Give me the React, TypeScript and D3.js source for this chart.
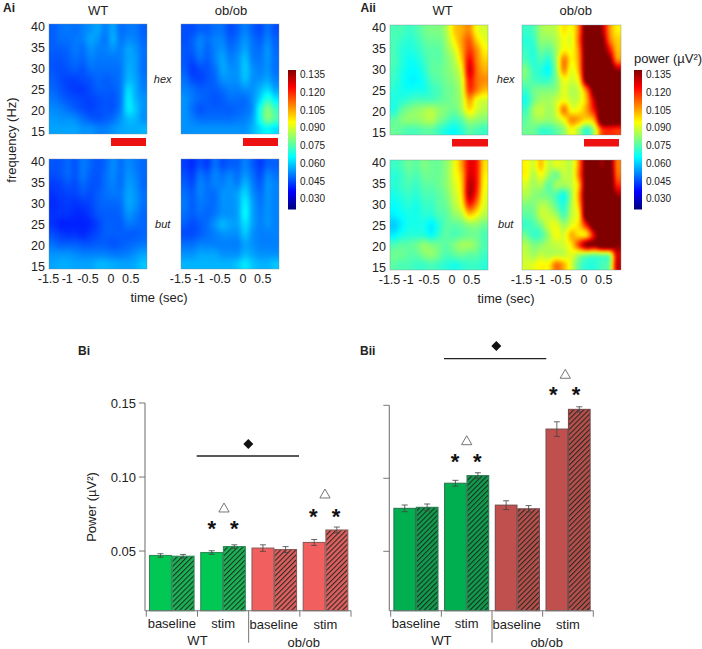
import React from "react";
import * as d3 from "d3";

// power x 1000 (µV²); rows 40 -> 15 Hz, columns -1.5 -> 0.9 s
const aiWtHex = [
  [47,49,50,49,51,53,55,51,55,49,50,50,47],
  [47,49,49,50,51,55,53,50,56,50,52,51,48],
  [47,47,48,50,49,53,51,51,53,51,55,53,49],
  [46,46,47,49,48,51,50,50,50,51,55,54,49],
  [46,45,46,47,46,49,49,49,49,50,56,54,49],
  [47,45,44,44,45,46,48,47,48,50,57,55,50],
  [48,46,44,43,43,45,47,47,47,50,61,56,51],
  [50,48,46,45,44,44,45,46,46,50,63,57,53],
  [52,51,49,47,45,44,45,46,46,51,63,59,53],
  [54,53,53,52,49,47,46,47,49,53,58,57,53],
  [55,55,55,55,53,53,51,51,53,55,56,56,57],
];
const aiObHex = [
  [45,45,47,47,49,49,45,47,51,47,45,49,45],
  [45,47,51,49,51,51,47,49,53,49,47,51,47],
  [46,47,51,48,51,53,49,51,55,50,49,53,48],
  [46,45,49,47,51,55,51,53,58,51,50,53,49],
  [47,43,45,46,49,55,53,53,59,53,51,53,49],
  [49,45,44,46,48,53,53,53,58,53,53,55,51],
  [51,49,47,47,47,49,51,51,53,53,57,61,55],
  [53,50,48,47,46,47,49,49,49,53,61,70,63],
  [53,49,46,47,47,47,47,48,49,53,68,80,72],
  [53,51,49,49,49,49,49,50,51,55,68,80,74],
  [53,53,53,53,53,53,53,53,53,57,62,65,62],
];
const aiWtBut = [
  [46,46,48,46,50,48,46,48,52,49,52,50,48],
  [45,46,48,46,50,47,46,49,52,49,53,51,48],
  [43,44,46,45,48,46,46,49,51,49,54,52,48],
  [42,43,44,44,46,45,47,49,50,50,55,53,49],
  [41,42,43,42,43,44,47,48,48,49,55,53,49],
  [42,42,42,41,41,43,46,47,47,48,53,51,48],
  [42,40,40,40,40,41,44,47,47,47,50,49,48],
  [45,43,42,42,41,43,45,47,47,47,47,47,48],
  [49,47,47,47,46,46,47,47,46,47,48,49,50],
  [53,53,53,52,51,51,51,51,50,50,51,53,55],
  [55,56,56,55,55,55,57,57,56,55,55,56,59],
];
const aiObBut = [
  [43,41,45,43,49,45,47,47,51,47,43,47,47],
  [45,43,49,47,51,49,51,49,53,49,45,51,49],
  [47,45,51,49,51,51,53,51,57,51,47,53,51],
  [49,47,51,49,49,53,53,55,61,53,49,53,51],
  [50,47,50,49,49,53,53,55,64,55,50,53,51],
  [49,47,49,48,50,53,53,55,65,55,51,53,51],
  [47,45,47,49,53,57,55,55,62,55,51,53,51],
  [45,45,47,49,51,53,53,53,59,53,51,51,51],
  [49,49,51,51,51,51,51,51,55,53,51,51,51],
  [53,53,55,55,55,53,53,53,57,55,53,53,53],
  [57,57,57,57,57,57,57,59,63,59,57,57,59],
];
const aiiWtHex = [
  [74,74,72,74,78,80,80,86,100,104,108,94,90],
  [74,72,70,72,76,78,78,84,96,106,114,100,92],
  [74,70,69,70,74,76,76,82,90,104,118,108,96],
  [74,70,67,68,72,76,76,80,86,100,124,110,100],
  [73,69,66,66,70,76,77,80,84,94,128,112,104],
  [72,68,65,65,68,74,76,79,82,90,122,112,108],
  [70,68,67,68,68,72,74,78,80,88,118,110,102],
  [69,70,72,74,74,74,76,78,80,86,106,94,90],
  [69,76,80,82,84,86,82,80,78,84,98,90,86],
  [76,80,82,82,84,86,80,76,72,76,84,82,80],
  [78,76,74,74,76,76,72,68,66,70,76,74,72],
];
const aiiObHex = [
  [72,74,84,86,88,98,94,112,150,150,135,108,96],
  [70,72,82,82,86,94,92,114,150,150,142,112,100],
  [72,70,78,76,84,96,94,110,150,150,146,125,102],
  [74,70,74,70,84,110,96,108,150,150,146,140,108],
  [80,72,70,66,82,108,92,106,150,150,150,150,135],
  [78,74,72,72,80,94,90,98,145,150,150,150,150],
  [72,78,80,80,82,92,86,90,112,145,150,150,150],
  [68,78,84,84,88,94,88,90,104,132,150,150,150],
  [72,84,88,84,90,110,94,96,106,124,150,150,150],
  [76,82,84,82,86,94,108,104,98,106,150,150,150],
  [78,78,72,72,76,82,94,84,70,86,116,120,118],
];
const aiiWtBut = [
  [72,74,78,76,80,78,78,82,92,106,126,122,98],
  [70,72,76,74,78,78,78,82,92,102,128,122,96],
  [70,72,74,72,76,76,78,82,90,100,132,122,94],
  [68,70,72,70,74,74,76,80,88,98,132,118,92],
  [66,68,70,68,72,72,76,78,86,94,120,108,90],
  [64,66,68,68,70,70,74,76,82,86,100,94,86],
  [60,64,68,68,68,64,70,76,76,78,82,82,78],
  [64,68,70,70,70,66,72,76,74,76,78,78,74],
  [74,76,76,78,82,80,78,76,80,84,84,80,74],
  [78,78,76,76,80,82,78,74,76,78,76,76,72],
  [76,74,74,72,72,74,72,70,68,70,72,72,70],
];
const aiiObBut = [
  [96,90,102,88,92,90,88,110,145,150,135,145,110],
  [96,86,94,84,78,88,88,112,145,150,145,150,112],
  [90,84,86,76,84,84,88,104,148,150,150,150,120],
  [86,82,80,78,74,68,84,108,150,150,150,150,135],
  [80,80,86,84,76,70,86,104,150,150,150,150,150],
  [76,78,88,88,84,74,88,98,150,150,150,150,150],
  [72,74,80,90,92,84,92,100,124,148,150,150,150],
  [78,72,74,84,94,90,104,98,100,128,150,150,140],
  [86,80,82,86,88,90,98,118,138,138,150,150,138],
  [88,84,88,86,88,88,92,84,80,78,80,84,130],
  [90,92,96,96,112,104,90,76,70,70,74,80,132],
];

const freqTicks = [40, 35, 30, 25, 20, 15];
const timeTicks = [-1.5, -1, -0.5, 0, 0.5];
const colorTicks = [0.135, 0.12, 0.105, 0.09, 0.075, 0.06, 0.045, 0.03];

const groups = ["WT baseline", "WT stim", "ob/ob baseline", "ob/ob stim"];
const biSolid = [0.047, 0.049, 0.052, 0.0558];
const biHatched = [0.0465, 0.053, 0.051, 0.0642];
const biSolidErr = [0.0012, 0.0012, 0.0022, 0.002];
const biHatchedErr = [0.0012, 0.0012, 0.002, 0.002];
const biiSolid = [0.0794, 0.0966, 0.0816, 0.1337];
const biiHatched = [0.0801, 0.1018, 0.0791, 0.1472];
const biiSolidErr = [0.0023, 0.002, 0.003, 0.005];
const biiHatchedErr = [0.0023, 0.002, 0.0022, 0.0018];

const FONT = "'Liberation Sans', Arial, sans-serif";
const INK = "#222";

const jet = d3
  .scaleLinear<string>()
  .domain([0, 0.125, 0.375, 0.625, 0.875, 1])
  .range(["#000080", "#0000ff", "#00ffff", "#ffff00", "#ff0000", "#800000"])
  .clamp(true);
const colorPos = d3.scaleLinear().domain([0.0215, 0.139]).range([0, 1]).clamp(true);
const colorOf = (v: number) => jet(colorPos(v));

// smooth resampling of a heat map, as a plotting program's shading does
function cubic(a: number[], t: number) {
  const n = a.length;
  const p = Math.max(0, Math.min(n - 1, t));
  const i = Math.min(n - 2, Math.floor(p));
  const u = p - i;
  const p0 = a[Math.max(0, i - 1)];
  const p1 = a[i];
  const p2 = a[i + 1];
  const p3 = a[Math.min(n - 1, i + 2)];
  return 0.5 * (2 * p1 + (p2 - p0) * u + (2 * p0 - 5 * p1 + 4 * p2 - p3) * u * u + (3 * p1 - p0 - 3 * p2 + p3) * u * u * u);
}

function Heat({ grid, x, y, w, h, id }: any) {
  const nc = grid[0].length;
  const nr = grid.length;
  const col = d3.scaleLinear().domain([x, x + w]).range([-0.5, nc - 0.5]);
  const row = d3.scaleLinear().domain([y, y + h]).range([-0.5, nr - 0.5]);
  const s = 2;
  const xs = d3.range(x - 4, x + w + 4, s);
  const ys = d3.range(y - 4, y + h + 4, s);
  return (
    <g>
      <clipPath id={id}>
        <rect x={x} y={y} width={w} height={h} />
      </clipPath>
      <g clipPath={`url(#${id})`}>
        <g filter="url(#smooth)">
          {xs.map((px) => {
            const tx = col(px + s / 2);
            const column = grid.map((r: number[]) => cubic(r, tx));
            return ys.map((py) => (
              <rect key={`${px}-${py}`} x={px} y={py} width={s} height={s} fill={colorOf(cubic(column, row(py + s / 2)) / 1000)} />
            ));
          })}
        </g>
      </g>
      <rect x={x} y={y} width={w} height={h} fill="none" stroke="#7f8f98" strokeOpacity={0.4} strokeWidth={1} />
    </g>
  );
}

function PanelAxes({ x0, ys, w, h, tickEnd, xLabelY }: any) {
  return (
    <g fontFamily={FONT} fontSize={12.5} fill={INK}>
      {ys.map((top: number) => {
        const f = d3.scaleLinear().domain([40, 15]).range([top + 2.5, top + h - 2.5]);
        return freqTicks.map((t) => (
          <text key={`${top}-${t}`} x={tickEnd} y={f(t)} textAnchor="end" dominantBaseline="central">
            {t}
          </text>
        ));
      })}
      {x0.map((left: number) => {
        const tx = d3.scaleLinear().domain([-1.5, 0]).range([left, left + 62]);
        return timeTicks.map((t) => (
          <text
            key={`${left}-${t}`}
            x={tx(t)}
            dx={t === -1 ? -2.4 : t === -0.5 ? -2.3 : t === 0.5 ? -1 : t === -1.5 ? -0.5 : 0}
            y={xLabelY}
            textAnchor="middle"
            dominantBaseline="central"
          >
            {t}
          </text>
        ));
      })}
    </g>
  );
}

function ColorBar({ x, labelX }: any) {
  const top = 70;
  const bottom = 209;
  const s = d3.scaleLinear().domain([0.139, 0.0215]).range([top, bottom]);
  const steps = d3.range(top, bottom, 1);
  return (
    <g fontFamily={FONT} fontSize={10} fill={INK}>
      {steps.map((p) => (
        <rect key={p} x={x} y={p} width={8} height={1.5} fill={colorOf(s.invert(p + 0.5))} />
      ))}
      {colorTicks.map((t) => (
        <text key={t} x={labelX} y={s(t)} dominantBaseline="central">
          {t.toFixed(3)}
        </text>
      ))}
    </g>
  );
}

const tri = d3.symbol().type(d3.symbolTriangle).size(46)()!;
const dia = d3.symbol().type(d3.symbolSquare).size(50)()!;

function Bars({ solid, hatched, solidErr, hatchedErr, yAxisX, domain, yRange, xRange, colors, hatchId, showLabels }: any) {
  const y = d3.scaleLinear().domain(domain).range(yRange);
  const gx = d3.scaleBand<string>().domain(groups).range(xRange).paddingInner(0.115).paddingOuter(0.055);
  const bx = d3.scaleBand<number>().domain([0, 1]).range([0, gx.bandwidth()]);
  const step = (xRange[1] - xRange[0]) / 4;
  const ticks = d3.range(5).map((i) => xRange[0] + i * step);
  const base = yRange[0];
  const ax = "#777";
  const series = [
    { v: solid, e: solidErr },
    { v: hatched, e: hatchedErr },
  ];
  return (
    <g fontFamily={FONT} fill={INK}>
      {series.map((s, si) =>
        s.v.map((v: number, i: number) => {
          const g = groups[i];
          const dark = i < 2 ? colors.edgeA : colors.edgeB;
          const fill = i < 2 ? (si ? `url(#${hatchId}A)` : colors.fillA) : si ? `url(#${hatchId}B)` : colors.fillB;
          const x = gx(g)! + bx(si)!;
          const cx = x + bx.bandwidth() / 2;
          return (
            <g key={`${si}-${i}`}>
              <rect x={x + 0.4} y={y(v)} width={bx.bandwidth() - 0.8} height={base - y(v)} fill={fill} stroke={dark} strokeWidth={1.1} />
              <path
                d={`M${cx - 3},${y(v + s.e[i])}H${cx + 3}M${cx},${y(v + s.e[i])}V${y(v - s.e[i])}M${cx - 3},${y(v - s.e[i])}H${cx + 3}`}
                stroke="#444"
                strokeWidth={0.9}
                fill="none"
                opacity={0.9}
              />
            </g>
          );
        })
      )}
      <path d={`M${yAxisX},${y(0.15)}V${base}`} stroke={ax} strokeWidth={1.1} fill="none" />
      {[0.05, 0.1, 0.15].map((t) => (
        <g key={t}>
          <line x1={yAxisX - 6} x2={yAxisX} y1={y(t)} y2={y(t)} stroke={ax} strokeWidth={1} />
          {showLabels && (
            <text x={yAxisX - 9} y={y(t)} textAnchor="end" dominantBaseline="central" fontSize={13}>
              {t.toFixed(2)}
            </text>
          )}
        </g>
      ))}
      <path d={`M${yAxisX},${base}H${xRange[1]}`} stroke={ax} strokeWidth={1.1} fill="none" />
      {ticks.map((t, i) => (
        <line key={i} x1={t} x2={t} y1={base} y2={i === 2 ? base + 32 : base + 6} stroke={ax} strokeWidth={1} />
      ))}
      {["baseline", "stim", "baseline", "stim"].map((l, i) => (
        <text key={i} x={ticks[i] + step / 2 + (i === 2 ? -0.5 : 0)} y={base + (i < 2 ? 12.5 : 13.5)} textAnchor="middle" dominantBaseline="central" fontSize={13}>
          {l}
        </text>
      ))}
      <text x={ticks[1]} y={base + 30} textAnchor="middle" dominantBaseline="central" fontSize={13}>WT</text>
      <text x={ticks[3] + 4} y={base + 31.5} textAnchor="middle" dominantBaseline="central" fontSize={13}>ob/ob</text>
    </g>
  );
}

function Star({ x, y }: any) {
  return (
    <text x={x} y={y + 10} textAnchor="middle" fontFamily={FONT} fontWeight="bold" fontSize={22} fill="#111">
      *
    </text>
  );
}

function Signif({ stars, triangles, line, diamond }: any) {
  return (
    <g>
      {stars.map((s: number[], i: number) => (
        <Star key={i} x={s[0]} y={s[1]} />
      ))}
      {triangles.map((t: number[], i: number) => (
        <path key={i} d={tri} transform={`translate(${t[0]},${t[1] + 1})`} fill="#fff" stroke="#666" strokeWidth={0.9} />
      ))}
      <line x1={line[0]} x2={line[1]} y1={line[2]} y2={line[2]} stroke="#222" strokeWidth={1.3} />
      <path d={dia} transform={`translate(${diamond[0]},${diamond[1]}) rotate(45)`} fill="#111" />
    </g>
  );
}

function Hatch({ id, bg }: any) {
  return (
    <pattern id={id} width={3.6} height={3.6} patternUnits="userSpaceOnUse" patternTransform="rotate(45)">
      <rect width={3.6} height={3.6} fill={bg} />
      <rect width={1.1} height={3.6} fill="#10201a" opacity={0.85} />
    </pattern>
  );
}

export default function App() {
  const txt = { fontFamily: FONT, fill: INK } as const;
  return (
    <svg width={702} height={649} style={{ position: "absolute", left: 0, top: 0, background: "#fff" }}>
      <defs>
        <filter id="smooth" x="-5%" y="-5%" width="110%" height="110%" colorInterpolationFilters="sRGB">
          <feGaussianBlur stdDeviation="1 1" />
        </filter>
        <Hatch id="h1A" bg="#1db356" />
        <Hatch id="h1B" bg="#e0605f" />
        <Hatch id="h2A" bg="#149c4e" />
        <Hatch id="h2B" bg="#b9504d" />
      </defs>

      <Heat grid={aiWtHex} x={49} y={24} w={98} h={110} id="c1" />
      <Heat grid={aiObHex} x={181} y={24} w={98} h={110} id="c2" />
      <Heat grid={aiWtBut} x={49} y={159} w={98} h={110} id="c3" />
      <Heat grid={aiObBut} x={181} y={159} w={98} h={110} id="c4" />
      <Heat grid={aiiWtHex} x={390} y={25} w={98} h={110} id="c5" />
      <Heat grid={aiiObHex} x={522} y={25} w={99} h={110} id="c6" />
      <Heat grid={aiiWtBut} x={390} y={160} w={98} h={110} id="c7" />
      <Heat grid={aiiObBut} x={522} y={160} w={99} h={110} id="c8" />

      <rect x={111} y={138} width={35} height={8} fill="#ee1111" />
      <rect x={243} y={138} width={35} height={8} fill="#ee1111" />
      <rect x={452} y={139} width={36} height={7.5} fill="#ee1111" />
      <rect x={584} y={139} width={35} height={7.5} fill="#ee1111" />

      <PanelAxes x0={[49, 181]} ys={[24, 159]} w={98} h={110} tickEnd={45} xLabelY={279} />
      <PanelAxes x0={[390, 522]} ys={[25, 160]} w={98} h={110} tickEnd={386} xLabelY={280} />
      <ColorBar x={288} labelX={300} />
      <ColorBar x={634} labelX={646} />

      <g {...txt} fontSize={13} textAnchor="middle" dominantBaseline="central">
        <text x={98} y={10.5}>WT</text>
        <text x={231} y={10.5}>ob/ob</text>
        <text x={442.7} y={10.5}>WT</text>
        <text x={575.7} y={10.5}>ob/ob</text>
        <text x={159} y={297.7}>time (sec)</text>
        <text x={506} y={298.5}>time (sec)</text>
        <text transform="translate(11,140) rotate(-90)">frequency (Hz)</text>
        <g fontStyle="italic" fontSize={11}>
          <text x={162.7} y={78.7}>hex</text>
          <text x={162.7} y={223.7}>but</text>
          <text x={505.7} y={78.7}>hex</text>
          <text x={505.7} y={223.5}>but</text>
        </g>
      </g>
      <text {...txt} x={634} y={58.7} fontSize={13} dominantBaseline="central">power (µV²)</text>
      <g {...txt} fontWeight="bold" fontSize={12} dominantBaseline="central">
        <text x={3} y={8}>Ai</text>
        <text x={360.5} y={8}>Aii</text>
        <text x={78} y={351}>Bi</text>
        <text x={360} y={351}>Bii</text>
      </g>
      <text {...txt} transform="translate(91,507) rotate(-90)" fontSize={13} textAnchor="middle" dominantBaseline="central">Power (µV²)</text>

      <Bars
        solid={biSolid}
        hatched={biHatched}
        solidErr={biSolidErr}
        hatchedErr={biHatchedErr}
        yAxisX={145}
        domain={[0.0097, 0.15]}
        yRange={[610.7, 403]}
        xRange={[146.3, 351]}
        colors={{ fillA: "#00c853", fillB: "#f1605f", edgeA: "#2f8a58", edgeB: "#8f5a5a" }}
        hatchId="h1"
        showLabels
      />
      <Bars
        solid={biiSolid}
        hatched={biiHatched}
        solidErr={biiSolidErr}
        hatchedErr={biiHatchedErr}
        yAxisX={389.3}
        domain={[0.0093, 0.15]}
        yRange={[610.7, 405.3]}
        xRange={[390.7, 593.3]}
        colors={{ fillA: "#00b050", fillB: "#c0504d", edgeA: "#2a7a50", edgeB: "#7a4a4a" }}
        hatchId="h2"
      />
      <Signif
        stars={[[211.7, 526], [234.3, 526], [313.3, 514], [336, 514]]}
        triangles={[[224, 508], [325, 494]]}
        line={[196.7, 299, 456]}
        diamond={[248.3, 444]}
      />
      <Signif
        stars={[[455, 458.7], [477.3, 458.7], [553.3, 392.3], [576, 392.3]]}
        triangles={[[466.7, 440.7], [565.3, 374.3]]}
        line={[444, 546.3, 358.7]}
        diamond={[496.3, 346]}
      />
    </svg>
  );
}
